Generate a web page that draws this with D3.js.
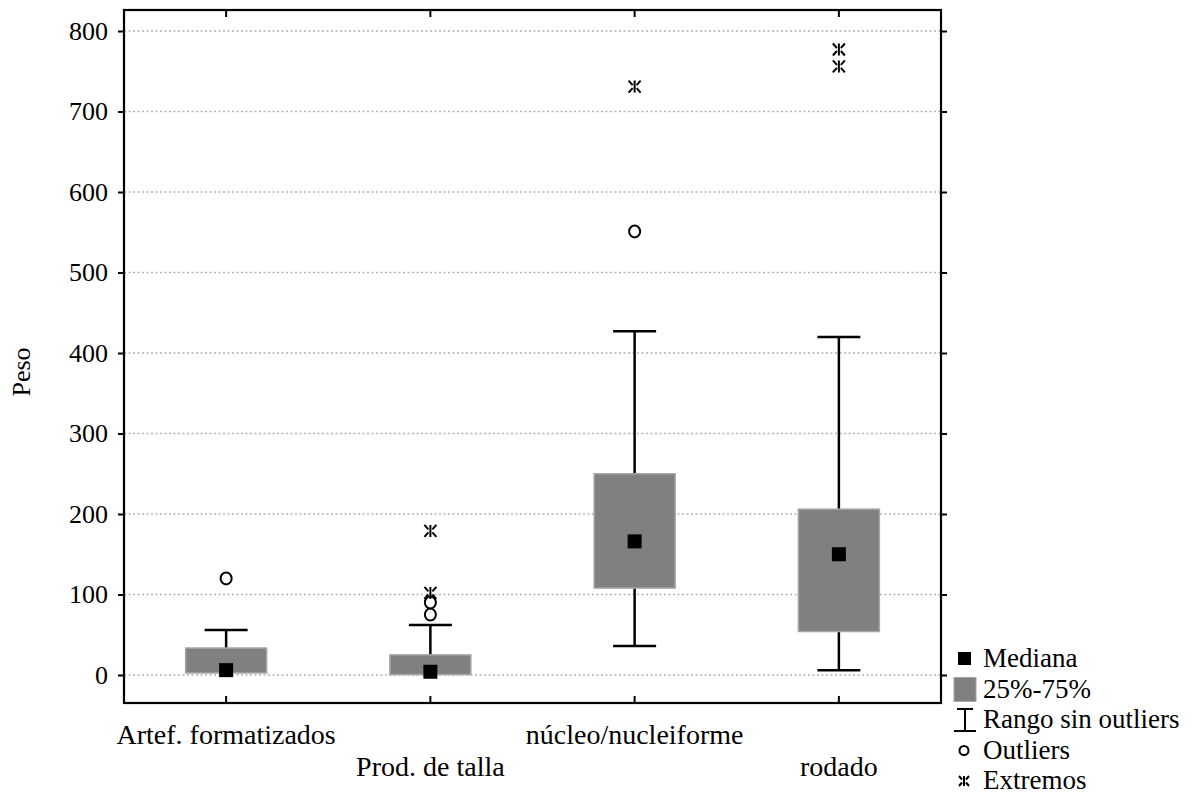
<!DOCTYPE html>
<html><head><meta charset="utf-8">
<script src="https://cdn.jsdelivr.net/npm/d3@7"></script>
<style>body{margin:0;background:#fff}svg{display:block}text{font-family:"Liberation Serif","Times New Roman",serif;fill:#000}</style>
</head><body><svg id="c" width="1198" height="794"></svg>
<script>
const categories = ["Artef. formatizados","Prod. de talla","núcleo/nucleiforme","rodado"];
const medians = [6, 4, 166, 150];
const q1 = [2.5, 0.5, 108, 54];
const q3 = [33.5, 25, 250, 206];
const whiskerLow = [2.5, 0.5, 36, 6];
const whiskerHigh = [56, 62, 427, 420];
const outliers = [[120],[75, 90],[551],[]];
const extremes = [[],[102, 179],[731],[756, 777]];
const yTicks = [0,100,200,300,400,500,600,700,800];
const legendLabels = ["Mediana","25%-75%","Rango sin outliers","Outliers","Extremos"];

const svg = d3.select("#c");
const L=124, R=941, T=10, B=703;
const x = d3.scaleBand().domain(categories).range([L,R]).padding(0);
const y = d3.scaleLinear().domain([-34.8, 826.1]).range([B,T]);
const cx = c => x(c)+x.bandwidth()/2;
const boxW = 81, capW = 43, medS = 14;

// grid
svg.append("g").selectAll("line").data(yTicks).join("line")
 .attr("x1",L).attr("x2",R).attr("y1",d=>y(d)).attr("y2",d=>y(d))
 .attr("stroke","#b3b3b3").attr("stroke-width",1.6).attr("stroke-dasharray","2,2.5");

// axes
const gl = svg.append("g").attr("transform",`translate(${L},0)`)
 .call(d3.axisLeft(y).tickValues(yTicks).tickSize(6).tickPadding(10).tickFormat(d3.format("d")));
gl.select(".domain").remove();
gl.selectAll("line").attr("stroke","#000").attr("stroke-width",2);
gl.selectAll("text").style("font-size","26px").style("font-family","Liberation Serif");
const gr = svg.append("g").attr("transform",`translate(${R},0)`)
 .call(d3.axisLeft(y).tickValues(yTicks).tickSize(-6).tickFormat(""));
gr.select(".domain").remove(); gr.selectAll("line").attr("stroke","#000").attr("stroke-width",2);
const gt = svg.append("g").attr("transform",`translate(0,${T})`)
 .call(d3.axisTop(x).tickSize(-7).tickFormat(""));
gt.select(".domain").remove(); gt.selectAll("line").attr("stroke","#000").attr("stroke-width",2);
const gb = svg.append("g").attr("transform",`translate(0,${B})`)
 .call(d3.axisBottom(x).tickSize(-7).tickFormat(""));
gb.select(".domain").remove(); gb.selectAll("line").attr("stroke","#000").attr("stroke-width",2);

// category labels staggered
svg.append("g").selectAll("text").data(categories).join("text")
 .attr("x",d=>cx(d)).attr("y",(d,i)=> i%2===0 ? 744 : 776)
 .attr("text-anchor","middle").style("font-size","28px").text(d=>d);

// frame
svg.append("rect").attr("x",L).attr("y",T).attr("width",R-L).attr("height",B-T)
 .attr("fill","none").attr("stroke","#000").attr("stroke-width",2.2);

// y label
svg.append("text").attr("transform","translate(30,372) rotate(-90)").attr("text-anchor","middle")
 .style("font-size","26px").text("Peso");

const g = svg.append("g");
categories.forEach((c,i)=>{
  const xc = cx(c);
  if (whiskerHigh[i] > q3[i]) {
    g.append("line").attr("x1",xc).attr("x2",xc).attr("y1",y(q3[i])).attr("y2",y(whiskerHigh[i])).attr("stroke","#000").attr("stroke-width",2.5);
    g.append("line").attr("x1",xc-capW/2).attr("x2",xc+capW/2).attr("y1",y(whiskerHigh[i])).attr("y2",y(whiskerHigh[i])).attr("stroke","#000").attr("stroke-width",2.5);
  }
  if (whiskerLow[i] < q1[i]) {
    g.append("line").attr("x1",xc).attr("x2",xc).attr("y1",y(q1[i])).attr("y2",y(whiskerLow[i])).attr("stroke","#000").attr("stroke-width",2.5);
    g.append("line").attr("x1",xc-capW/2).attr("x2",xc+capW/2).attr("y1",y(whiskerLow[i])).attr("y2",y(whiskerLow[i])).attr("stroke","#000").attr("stroke-width",2.5);
  }
  g.append("rect").attr("x",xc-boxW/2).attr("width",boxW).attr("y",y(q3[i])).attr("height",y(q1[i])-y(q3[i]))
   .attr("fill","#808080").attr("stroke","#a6a6a6").attr("stroke-width",1.5);
  g.append("rect").attr("x",xc-medS/2).attr("y",y(medians[i])-medS/2).attr("width",medS).attr("height",medS).attr("fill","#000");
  outliers[i].forEach(v=>{
    g.append("ellipse").attr("cx",xc).attr("cy",y(v)).attr("rx",5.5).attr("ry",6)
     .attr("fill","#fff").attr("stroke","#000").attr("stroke-width",2);
  });
  extremes[i].forEach(v=>drawExtreme(g, xc, y(v), 6));
});

function drawExtreme(sel, px, py, s){
  const p = `M${px},${py-s}L${px},${py+s}`+
    `M${px-s},${py-s}L${px-2},${py-1.5}M${px+s},${py-s}L${px+2},${py-1.5}`+
    `M${px-s},${py+s}L${px-2},${py+1.5}M${px+s},${py+s}L${px+2},${py+1.5}`;
  sel.append("path").attr("d",p).attr("stroke","#000").attr("stroke-width",2).attr("fill","none");
}

// legend
const lg = svg.append("g");
const ly = d => 659 + d*30.5;
lg.append("rect").attr("x",958).attr("y",ly(0)-7).attr("width",13).attr("height",13).attr("fill","#000");
lg.append("rect").attr("x",954).attr("y",ly(1)-12).attr("width",22).attr("height",24).attr("fill","#808080").attr("stroke","#a6a6a6");
lg.append("path").attr("d",`M957,${ly(2)-11}H973M965,${ly(2)-11}V${ly(2)+11}M954,${ly(2)+11}H976`).attr("stroke","#000").attr("stroke-width",2).attr("fill","none");
lg.append("ellipse").attr("cx",964).attr("cy",ly(3)).attr("rx",4.5).attr("ry",4.5).attr("fill","#fff").attr("stroke","#000").attr("stroke-width",2);
drawExtreme(lg, 964, ly(4), 5);
lg.selectAll("text.l").data(legendLabels).join("text").attr("class","l")
 .attr("x",983).attr("y",(d,i)=>ly(i)+8).style("font-size","27px").text(d=>d);
</script></body></html>
